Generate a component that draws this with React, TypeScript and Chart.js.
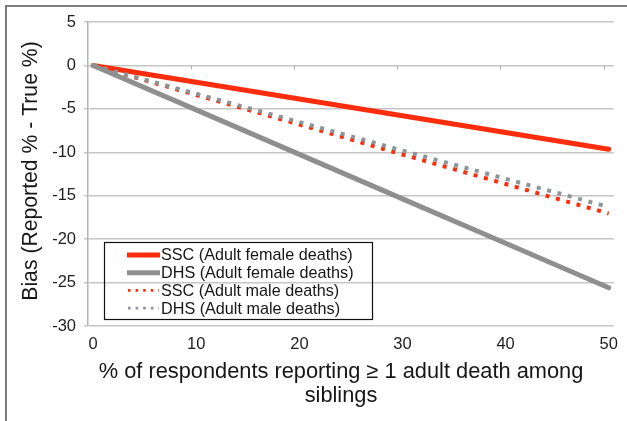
import { useEffect, useRef } from "react";
import { Chart, registerables } from "chart.js";

Chart.register(...registerables);

// ---- data ----
const xValues = [0, 10, 20, 30, 40, 50];
const sscFemale = [0, -1.93, -3.86, -5.79, -7.72, -9.65];
const dhsFemale = [0, -5.12, -10.24, -15.36, -20.48, -25.6];
const sscMale = [0, -3.4, -6.8, -10.25, -13.65, -17.05];
const dhsMale = [0, -3.26, -6.52, -9.8, -13.05, -16.3];
const seriesLabels = [
  "SSC (Adult female deaths)",
  "DHS (Adult female deaths)",
  "SSC (Adult male deaths)",
  "DHS (Adult male deaths)",
];
const xTicks = [0, 10, 20, 30, 40, 50];
const yTicks = [5, 0, -5, -10, -15, -20, -25, -30];
const xTitleLines = ["% of respondents reporting \u2265 1 adult death among", "siblings"];
const yTitle = "Bias (Reported % - True %)";

const RED = "#fb2d0c";
const GRAY = "#8f8f8f";
const GRAY_DOT = "#8b9498";
const FONT = "'Liberation Sans', Arial, sans-serif";

const framePlugin = {
  id: "frame",
  beforeDraw(chart: any) {
    const ctx = chart.ctx;
    ctx.save();
    ctx.fillStyle = "#ffffff";
    ctx.fillRect(0, 0, chart.width, chart.height);
    ctx.strokeStyle = "#7c7c7c";
    ctx.lineWidth = 2;
    ctx.strokeRect(6, 6, chart.width + 20, chart.height + 20);
    ctx.restore();
  },
};

const axisExtrasPlugin = {
  id: "axisExtras",
  afterDraw(chart: any) {
    const ctx = chart.ctx;
    const xs = chart.scales.x;
    const ys = chart.scales.y;
    const y0 = ys.getPixelForValue(0);
    ctx.save();
    // category boundary tick marks on the zero line
    ctx.strokeStyle = "#b5b5b5";
    ctx.lineWidth = 1.2;
    xTicks.slice(1).forEach((v) => {
      const px = Math.round(xs.getPixelForValue(v - 0.5)) + 0.5;
      ctx.beginPath();
      ctx.moveTo(px, y0);
      ctx.lineTo(px, y0 + 4);
      ctx.stroke();
    });
    // axis titles
    ctx.fillStyle = "#161616";
    ctx.font = `21.8px ${FONT}`;
    ctx.textAlign = "center";
    ctx.textBaseline = "middle";
    xTitleLines.forEach((line, i) => {
      ctx.fillText(line, 341, 372 + i * 24);
    });
    ctx.font = `21.2px ${FONT}`;
    ctx.translate(31, 171);
    ctx.rotate(-Math.PI / 2);
    ctx.fillText(yTitle, 0, 0);
    ctx.restore();

    // legend box
    ctx.save();
    ctx.strokeStyle = "#111";
    ctx.lineWidth = 1.2;
    ctx.strokeRect(104.5, 242.5, 268, 77);
    ctx.font = `16.2px ${FONT}`;
    ctx.textAlign = "left";
    ctx.textBaseline = "middle";
    chart.data.datasets.forEach((ds: any, i: number) => {
      const cy = 255 + i * 17.7;
      ctx.save();
      ctx.strokeStyle = ds.borderColor;
      if (ds.borderDash && ds.borderDash.length) {
        ctx.setLineDash([2.6, 5]);
        ctx.lineWidth = 2.6;
        ctx.beginPath();
        ctx.moveTo(128, cy);
        ctx.lineTo(159, cy);
        ctx.stroke();
      } else {
        ctx.lineWidth = 5;
        ctx.beginPath();
        ctx.moveTo(127, cy);
        ctx.lineTo(160, cy);
        ctx.stroke();
      }
      ctx.restore();
      ctx.fillStyle = "#161616";
      ctx.fillText(ds.label, 161, cy + 1);
    });
    ctx.restore();
  },
};

export default function App() {
  const canvasRef = useRef<HTMLCanvasElement | null>(null);

  useEffect(() => {
    if (!canvasRef.current) return;
    const mk = (vals: number[]) => xValues.map((x, i) => ({ x, y: vals[i] }));
    const chart = new Chart(canvasRef.current, {
      type: "line",
      data: {
        datasets: [
          {
            label: seriesLabels[0],
            data: mk(sscFemale),
            borderColor: RED,
            borderWidth: 5,
            pointRadius: 0,
            borderCapStyle: "round",
            order: 4,
          },
          {
            label: seriesLabels[1],
            data: mk(dhsFemale),
            borderColor: GRAY,
            borderWidth: 5,
            pointRadius: 0,
            borderCapStyle: "round",
            order: 1,
          },
          {
            label: seriesLabels[2],
            data: mk(sscMale),
            borderColor: RED,
            borderWidth: 4,
            borderDash: [4, 6.7],
            pointRadius: 0,
            order: 3,
          },
          {
            label: seriesLabels[3],
            data: mk(dhsMale),
            borderColor: GRAY_DOT,
            borderWidth: 4,
            borderDash: [4, 6.7],
            pointRadius: 0,
            order: 2,
          },
        ],
      },
      options: {
        animation: false,
        responsive: false,
        layout: { padding: { left: 0, right: 12, top: 22, bottom: 0 } },
        plugins: {
          legend: { display: false },
          tooltip: { enabled: false },
        },
        scales: {
          x: {
            type: "linear",
            min: -0.5,
            max: 50.5,
            grid: { display: false, drawTicks: false },
            border: { display: false },
            afterBuildTicks: (scale: any) => {
              scale.ticks = xTicks.map((v) => ({ value: v }));
            },
            afterFit: (scale: any) => {
              scale.height = 95;
            },
            ticks: {
              autoSkip: false,
              maxRotation: 0,
              padding: 9,
              color: "#1e1e1e",
              font: { family: FONT, size: 16.5 },
            },
          },
          y: {
            type: "linear",
            min: -30,
            max: 5,
            afterBuildTicks: (scale: any) => {
              scale.ticks = yTicks.map((v) => ({ value: v }));
            },
            afterFit: (scale: any) => {
              scale.width = 88;
            },
            grid: { color: "#c6c6c6", lineWidth: 1.5, tickLength: 4 },
            border: { color: "#b3b3b3", width: 1.5 },
            ticks: {
              padding: 8,
              color: "#1e1e1e",
              font: { family: FONT, size: 16.5 },
            },
          },
        },
      },
      plugins: [framePlugin, axisExtrasPlugin],
    } as any);
    return () => chart.destroy();
  }, []);

  return (
    <div style={{ position: "fixed", left: 0, top: 0, width: 627, height: 421 }}>
      <canvas ref={canvasRef} width={627} height={421} />
    </div>
  );
}
